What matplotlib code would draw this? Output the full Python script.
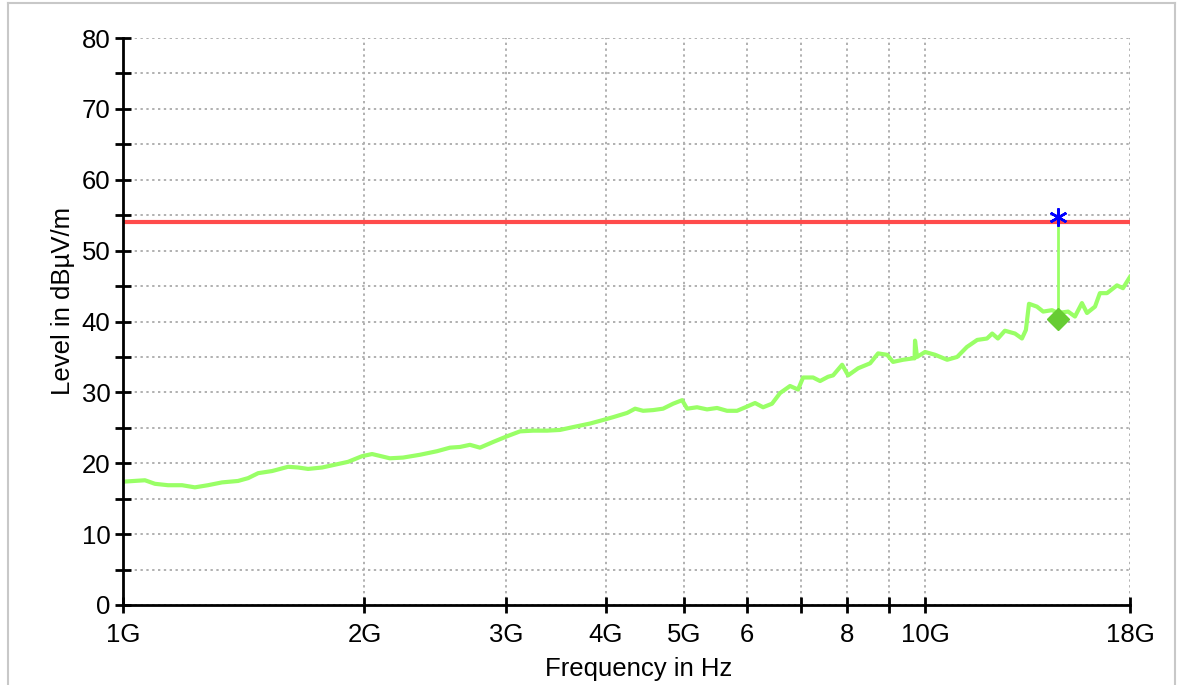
import matplotlib
matplotlib.use("Agg")
import matplotlib.pyplot as plt
from matplotlib.lines import Line2D

plt.rcParams['font.family'] = ['Liberation Sans', 'DejaVu Sans']

# measured trace (frequency in GHz, level in dBuV/m)
freq_ghz = [1.000, 1.065, 1.096, 1.138, 1.185, 1.229, 1.276, 1.329, 1.391, 1.432,
            1.474, 1.534, 1.606, 1.653, 1.701, 1.771, 1.838, 1.908, 1.986, 2.044,
            2.151, 2.234, 2.346, 2.463, 2.556, 2.631, 2.707, 2.786, 2.893, 3.010,
            3.126, 3.245, 3.377, 3.505, 3.639, 3.820, 3.966, 4.082, 4.250, 4.349,
            4.450, 4.579, 4.712, 4.850, 4.977, 5.049, 5.195, 5.346, 5.502, 5.662,
            5.827, 5.997, 6.136, 6.279, 6.442, 6.592, 6.784, 6.942, 7.043, 7.248,
            7.395, 7.566, 7.677, 7.878, 8.015, 8.248, 8.537, 8.735, 8.965, 9.118,
            9.383, 9.656, 9.700, 9.712, 9.768, 9.995, 10.29, 10.65, 10.96, 11.27,
            11.61, 11.94, 12.12, 12.32, 12.57, 12.94, 13.20, 13.35, 13.47, 13.78,
            14.03, 14.39, 14.64, 15.07, 15.37, 15.68, 15.91, 16.28, 16.51, 16.85,
            17.34, 17.64, 18.00]
level = [17.4, 17.6, 17.1, 16.9, 16.9, 16.6, 16.9, 17.3, 17.5, 17.9,
         18.6, 18.9, 19.5, 19.4, 19.2, 19.4, 19.8, 20.2, 21.0, 21.3,
         20.7, 20.8, 21.2, 21.7, 22.2, 22.3, 22.6, 22.2, 23.0, 23.8,
         24.5, 24.6, 24.6, 24.7, 25.1, 25.6, 26.1, 26.5, 27.1, 27.7,
         27.4, 27.5, 27.7, 28.4, 28.9, 27.7, 27.9, 27.6, 27.8, 27.4,
         27.4, 28.0, 28.5, 27.9, 28.4, 29.9, 30.9, 30.4, 32.1, 32.1,
         31.6, 32.2, 32.4, 33.9, 32.4, 33.4, 34.1, 35.5, 35.3, 34.3,
         34.6, 34.8, 34.8, 37.3, 35.0, 35.7, 35.3, 34.6, 35.0, 36.4,
         37.4, 37.6, 38.3, 37.6, 38.7, 38.3, 37.6, 38.8, 42.5, 42.1,
         41.4, 41.6, 41.2, 41.4, 40.7, 42.6, 41.2, 42.1, 44.0, 44.0,
         45.1, 44.7, 46.3]

limit_level = 54.0
peak_freq = 14.64
peak_level = 40.3
star_level = 54.7

xticks = [1, 2, 3, 4, 5, 6, 7, 8, 9, 10, 18]
xticklabels = ['1G', '2G', '3G', '4G', '5G', '6', '', '8', '', '10G', '18G']
yticks = list(range(0, 81, 5))
yticklabels = [str(v) if v % 10 == 0 else '' for v in yticks]

fig = plt.figure(figsize=(11.77, 6.85), dpi=100)
ax = fig.add_axes([123 / 1177, 1 - 605 / 685, 1007 / 1177, 567 / 685])

ax.set_xscale('log')
ax.set_xlim(1, 18)
ax.set_ylim(0, 80)

# limit line
ax.axhline(limit_level, color='#ff4b4b', linewidth=3, zorder=3)

# trace
ax.plot(freq_ghz, level, color='#99ff66', linewidth=3, zorder=4)

# marker: vertical line, diamond and asterisk
ax.plot([peak_freq, peak_freq], [peak_level, star_level], color='#99ff66', linewidth=2, zorder=4)
ax.plot(peak_freq, peak_level, marker='D', markersize=11.5, color='#66cc33', zorder=5)
ax.plot(peak_freq, star_level, marker=(6, 2, 0), markersize=13, markeredgewidth=1.8,
        color='#0000ff', linestyle='none', zorder=6)

ax.set_xticks(xticks)
ax.set_xticklabels(xticklabels)
ax.xaxis.set_minor_locator(matplotlib.ticker.NullLocator())
ax.set_yticks(yticks)
ax.set_yticklabels(yticklabels)

ax.tick_params(axis='both', direction='inout', length=12, width=2, colors='black', labelsize=18.5)
ax.tick_params(axis='x', pad=7)
ax.tick_params(axis='y', pad=3)

ax.grid(True, color='#b0b0b0', linestyle=(0, (1.2, 1.8)), linewidth=1.4)

for side in ['top', 'right']:
    ax.spines[side].set_visible(False)
for side in ['left', 'bottom']:
    ax.spines[side].set_linewidth(2)
    ax.spines[side].set_zorder(7)

ax.set_xlabel('Frequency in Hz', fontsize=18.5, labelpad=7)
ax.set_ylabel('Level in dBµV/m', fontsize=18.5, labelpad=5)
ax.xaxis.set_label_coords(0.512, -0.092)
ax.yaxis.label.set_y(0.537)

# light frame around the figure
frame_kw = dict(color='#c8c8c8', linewidth=1.5, transform=fig.transFigure)
fig.add_artist(Line2D([8 / 1177, 8 / 1177], [0, 1 - 3 / 685], **frame_kw))
fig.add_artist(Line2D([8 / 1177, 1175 / 1177], [1 - 3 / 685, 1 - 3 / 685], **frame_kw))
fig.add_artist(Line2D([1175 / 1177, 1175 / 1177], [0, 1 - 3 / 685], **frame_kw))

fig.savefig('out.png', dpi=100)
